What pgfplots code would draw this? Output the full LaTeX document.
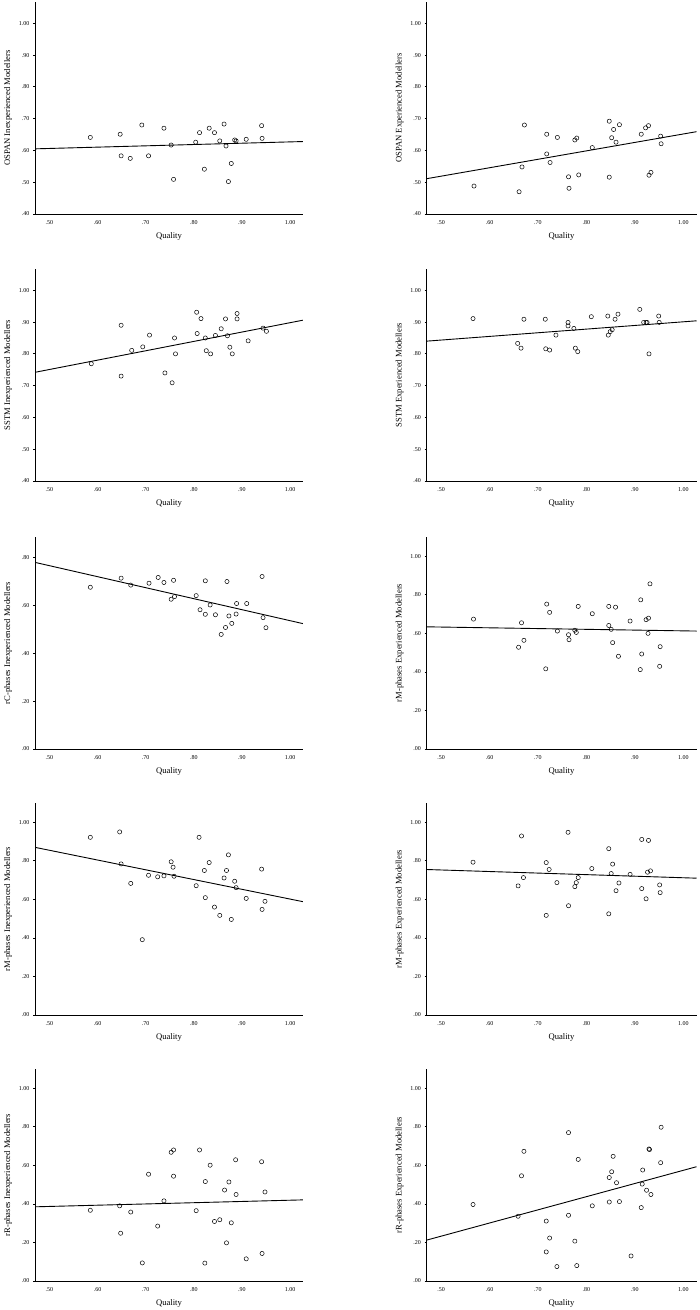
\documentclass[border=0pt]{standalone}
\usepackage{fontspec}
\setmainfont{Liberation Serif}
\usepackage{pgfplots}
\pgfplotsset{compat=1.18}
\begin{document}
\pgfplotsset{
  spss/.style={
    scale only axis, height=212pt,
    xmin=0.47, xmax=1.027,
    axis x line*=bottom, axis y line*=left,
    axis line style={line width=0.9pt,-},
    xtick={0.5,0.6,0.7,0.8,0.9,1.0},
    xticklabels={.50,.60,.70,.80,.90,1.00},
    xtick style={draw=none},
    ytick style={line width=0.8pt,black},
    tick align=outside, major tick length=2pt,
    tick label style={font=\fontsize{6}{7}\selectfont},
    /pgf/number format/assume math mode=true,
    xticklabel style={anchor=center, yshift=-7pt},
    label style={font=\fontsize{8.6}{10}\selectfont},
    xlabel={Quality},
    xlabel style={at={([yshift=-22.7pt]axis description cs:0.5,0)}, anchor=center},
    ylabel style={at={([xshift=-27pt]axis description cs:0,0.5)}, anchor=center},
  },
  pts/.style={only marks, mark=o, mark size=2.1pt, mark options={line width=0.5pt}, black},
  fit/.style={line width=0.9pt, black, no marks},
  yA/.style={ymin=0.40, ymax=1.067, ytick={0.4,0.5,0.6,0.7,0.8,0.9,1.0},
    yticklabels={.40,.50,.60,.70,.80,.90,1.00}},
  yB/.style={ymin=0, ymax=1.10, ytick={0,0.2,0.4,0.6,0.8,1.0},
    yticklabels={.00,.20,.40,.60,.80,1.00}},
  yC/.style={ymin=0, ymax=0.886, ytick={0,0.2,0.4,0.6,0.8},
    yticklabels={.00,.20,.40,.60,.80}},
  colL/.style={width=268pt},
  colR/.style={width=270pt},
}
\begin{tikzpicture}
\path[use as bounding box] (0,0) rectangle (697pt,-1310pt);

% row 1
\begin{axis}[spss, colL, yA, at={(32.5pt,-214pt)}, anchor=south west,
  ylabel={OSPAN Inexperienced Modellers}]
\addplot[pts] coordinates {
(0.585,0.641)(0.647,0.651)(0.649,0.583)(0.668,0.575)(0.692,0.680)(0.706,0.583)
(0.738,0.670)(0.753,0.617)(0.758,0.509)(0.804,0.626)(0.812,0.656)(0.822,0.541)
(0.832,0.670)(0.843,0.656)(0.854,0.630)(0.863,0.683)(0.867,0.614)(0.872,0.502)
(0.878,0.559)(0.885,0.633)(0.888,0.630)(0.909,0.635)(0.941,0.678)(0.942,0.638)};
\addplot[fit] coordinates {(0.47,0.605)(1.027,0.628)};
\end{axis}
\begin{axis}[spss, colR, yA, at={(424pt,-214pt)}, anchor=south west,
  ylabel={OSPAN Experienced Modellers}]
\addplot[pts] coordinates {
(0.568,0.488)(0.661,0.470)(0.667,0.548)(0.672,0.680)(0.718,0.651)(0.718,0.589)
(0.725,0.562)(0.740,0.641)(0.763,0.517)(0.764,0.481)(0.776,0.633)(0.780,0.639)
(0.784,0.523)(0.812,0.609)(0.847,0.516)(0.847,0.692)(0.852,0.640)(0.856,0.666)
(0.861,0.626)(0.868,0.681)(0.913,0.651)(0.922,0.671)(0.928,0.678)(0.929,0.522)
(0.933,0.531)(0.953,0.645)(0.954,0.621)};
\addplot[fit] coordinates {(0.47,0.511)(1.027,0.659)};
\end{axis}

% row 2
\begin{axis}[spss, colL, yA, at={(32.5pt,-481pt)}, anchor=south west,
  ylabel={SSTM Inexperienced Modellers}]
\addplot[pts] coordinates {
(0.587,0.769)(0.649,0.890)(0.649,0.730)(0.671,0.811)(0.694,0.822)(0.708,0.859)
(0.740,0.740)(0.755,0.709)(0.760,0.850)(0.762,0.800)(0.806,0.931)(0.807,0.864)
(0.815,0.911)(0.824,0.850)(0.826,0.810)(0.835,0.800)(0.845,0.858)(0.857,0.879)
(0.866,0.910)(0.870,0.857)(0.875,0.821)(0.880,0.800)(0.890,0.927)(0.890,0.910)
(0.913,0.841)(0.944,0.881)(0.951,0.871)};
\addplot[fit] coordinates {(0.47,0.742)(1.027,0.906)};
\end{axis}
\begin{axis}[spss, colR, yA, at={(424pt,-481pt)}, anchor=south west,
  ylabel={SSTM Experienced Modellers}]
\addplot[pts] coordinates {
(0.566,0.911)(0.658,0.833)(0.665,0.818)(0.671,0.909)(0.715,0.909)(0.716,0.816)
(0.724,0.812)(0.737,0.859)(0.762,0.899)(0.762,0.888)(0.774,0.880)(0.777,0.818)
(0.782,0.807)(0.810,0.917)(0.844,0.919)(0.845,0.859)(0.849,0.870)(0.853,0.876)
(0.859,0.909)(0.865,0.925)(0.910,0.940)(0.918,0.899)(0.923,0.899)(0.925,0.899)
(0.929,0.800)(0.949,0.919)(0.950,0.899)};
\addplot[fit] coordinates {(0.47,0.840)(1.027,0.904)};
\end{axis}

% row 3
\begin{axis}[spss, colL, yC, at={(32.5pt,-749pt)}, anchor=south west,
  ylabel={rC-phases Inexperienced Modellers}]
\addplot[pts] coordinates {
(0.585,0.676)(0.649,0.714)(0.669,0.685)(0.707,0.693)(0.726,0.717)(0.738,0.696)
(0.753,0.626)(0.758,0.705)(0.760,0.637)(0.805,0.641)(0.813,0.582)(0.824,0.703)
(0.824,0.563)(0.834,0.602)(0.845,0.561)(0.857,0.479)(0.866,0.508)(0.869,0.700)
(0.873,0.556)(0.879,0.525)(0.888,0.564)(0.889,0.608)(0.910,0.608)(0.942,0.721)
(0.944,0.549)(0.950,0.507)};
\addplot[fit] coordinates {(0.47,0.780)(1.027,0.524)};
\end{axis}
\begin{axis}[spss, colR, yB, at={(424pt,-749pt)}, anchor=south west,
  ylabel={rM-phases Experienced Modellers}]
\addplot[pts] coordinates {
(0.567,0.674)(0.660,0.528)(0.666,0.655)(0.671,0.564)(0.716,0.416)(0.718,0.752)
(0.724,0.709)(0.740,0.612)(0.763,0.593)(0.764,0.567)(0.776,0.616)(0.779,0.605)
(0.783,0.740)(0.812,0.702)(0.846,0.740)(0.846,0.641)(0.851,0.621)(0.854,0.552)
(0.860,0.736)(0.866,0.481)(0.890,0.664)(0.912,0.774)(0.911,0.412)(0.914,0.493)
(0.923,0.671)(0.927,0.600)(0.928,0.679)(0.931,0.857)(0.951,0.429)(0.952,0.531)};
\addplot[fit] coordinates {(0.47,0.634)(1.027,0.612)};
\end{axis}

% row 4
\begin{axis}[spss, colL, yB, at={(32.5pt,-1015pt)}, anchor=south west,
  ylabel={rM-phases Inexperienced Modellers}]
\addplot[pts] coordinates {
(0.585,0.922)(0.646,0.950)(0.649,0.784)(0.669,0.683)(0.693,0.391)(0.706,0.725)
(0.725,0.717)(0.738,0.722)(0.753,0.795)(0.757,0.767)(0.759,0.720)(0.805,0.671)
(0.811,0.922)(0.822,0.750)(0.824,0.609)(0.832,0.791)(0.843,0.560)(0.854,0.517)
(0.863,0.711)(0.868,0.750)(0.872,0.831)(0.878,0.496)(0.885,0.694)(0.888,0.661)
(0.909,0.605)(0.941,0.757)(0.942,0.548)(0.948,0.590)};
\addplot[fit] coordinates {(0.47,0.870)(1.027,0.588)};
\end{axis}
\begin{axis}[spss, colR, yB, at={(424pt,-1015pt)}, anchor=south west,
  ylabel={rM-phases Experienced Modellers}]
\addplot[pts] coordinates {
(0.566,0.793)(0.659,0.670)(0.666,0.929)(0.670,0.713)(0.717,0.791)(0.717,0.517)
(0.723,0.755)(0.739,0.687)(0.762,0.948)(0.763,0.567)(0.776,0.666)(0.779,0.687)
(0.783,0.713)(0.811,0.760)(0.846,0.863)(0.846,0.525)(0.851,0.734)(0.854,0.783)
(0.861,0.645)(0.867,0.685)(0.890,0.730)(0.914,0.911)(0.914,0.656)(0.923,0.603)
(0.926,0.741)(0.928,0.906)(0.932,0.748)(0.951,0.675)(0.952,0.635)};
\addplot[fit] coordinates {(0.47,0.755)(1.027,0.710)};
\end{axis}

% row 5
\begin{axis}[spss, colL, yB, at={(32.5pt,-1281pt)}, anchor=south west,
  ylabel={rR-phases Inexperienced Modellers}]
\addplot[pts] coordinates {
(0.585,0.367)(0.646,0.390)(0.648,0.248)(0.669,0.358)(0.693,0.094)(0.706,0.554)
(0.725,0.285)(0.738,0.416)(0.753,0.668)(0.758,0.680)(0.758,0.544)(0.805,0.365)
(0.812,0.680)(0.823,0.093)(0.824,0.516)(0.834,0.601)(0.843,0.309)(0.854,0.318)
(0.864,0.472)(0.868,0.198)(0.873,0.514)(0.878,0.302)(0.887,0.629)(0.888,0.449)
(0.909,0.115)(0.941,0.619)(0.942,0.143)(0.948,0.462)};
\addplot[fit] coordinates {(0.47,0.385)(1.027,0.421)};
\end{axis}
\begin{axis}[spss, colR, yB, at={(424pt,-1281pt)}, anchor=south west,
  ylabel={rR-phases Experienced Modellers}]
\addplot[pts] coordinates {
(0.566,0.397)(0.659,0.336)(0.666,0.546)(0.671,0.673)(0.717,0.311)(0.717,0.151)
(0.724,0.223)(0.739,0.075)(0.763,0.770)(0.763,0.341)(0.776,0.207)(0.780,0.080)
(0.783,0.631)(0.812,0.390)(0.847,0.410)(0.847,0.537)(0.852,0.567)(0.855,0.647)
(0.862,0.510)(0.868,0.412)(0.892,0.130)(0.913,0.381)(0.915,0.503)(0.916,0.576)
(0.924,0.471)(0.929,0.685)(0.930,0.682)(0.933,0.449)(0.953,0.614)(0.954,0.798)};
\addplot[fit] coordinates {(0.47,0.212)(1.027,0.593)};
\end{axis}
\end{tikzpicture}
\end{document}
